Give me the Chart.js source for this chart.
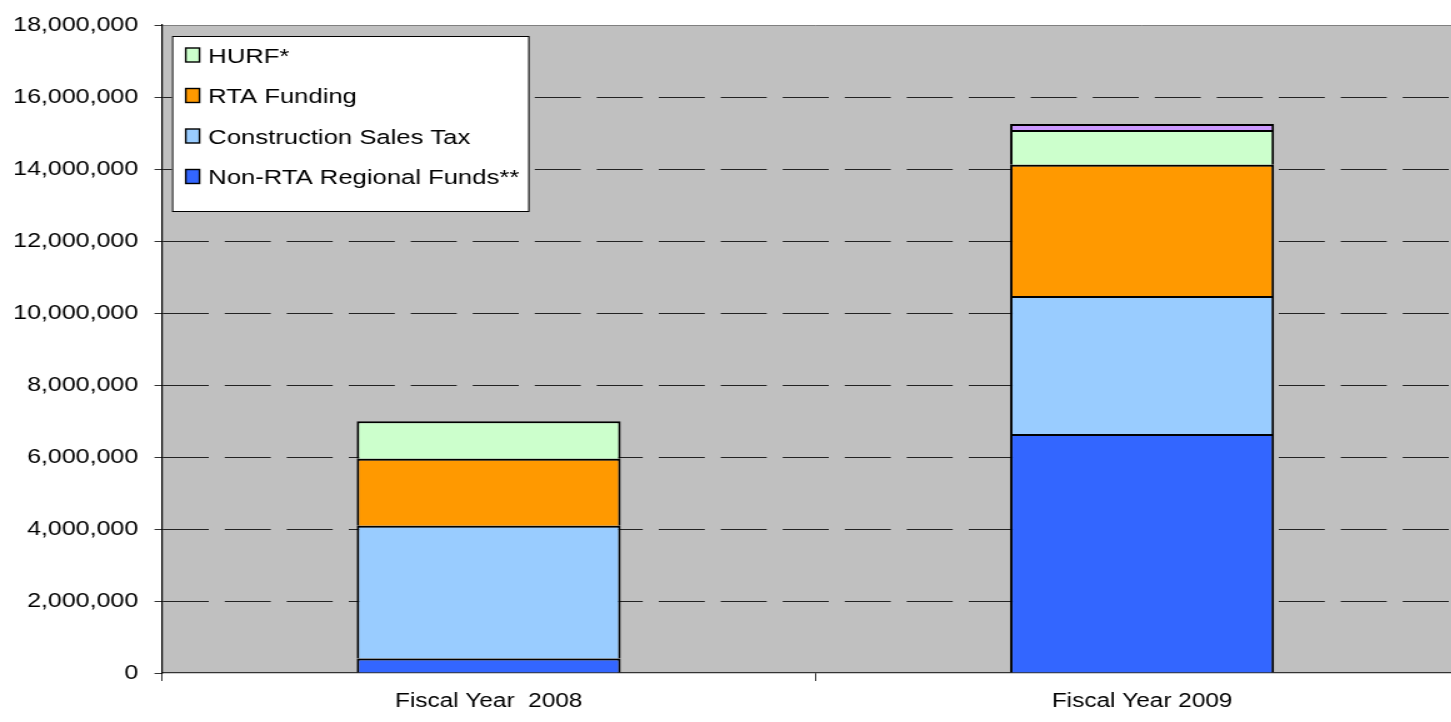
<!DOCTYPE html>
<html>
<head>
<meta charset="utf-8">
<script src="https://cdn.jsdelivr.net/npm/chart.js@4.4.1/dist/chart.umd.min.js"></script>
<style>
  html, body { margin: 0; padding: 0; background: #fff; overflow: hidden; }
  /* the original picture is stretched sideways, so draw narrow and widen */
  #wrap { width: 1175px; height: 722px; transform: scaleX(1.25); transform-origin: 0 0; }
</style>
</head>
<body>
<div id="wrap"><canvas id="fundingChart"></canvas></div>
<script>
const categories = ["Fiscal Year  2008", "Fiscal Year 2009"];

const nonRtaRegional = [400000, 6640000];
const constructionSalesTax = [3690000, 3830000];
const rtaFunding = [1860000, 3650000];
const hurf = [1040000, 960000];
const other = [0, 170000];

// legend shows top to bottom, the purple strip has no entry
const legendOrder = ["HURF*", "RTA Funding", "Construction Sales Tax", "Non-RTA Regional Funds**"];

const FONT = "'Liberation Sans', Arial, sans-serif";

// grey plot area with a grey frame on top
const plotBackground = {
  id: "plotBackground",
  beforeDraw(chart) {
    const { ctx, chartArea: a } = chart;
    ctx.save();
    ctx.fillStyle = "#c0c0c0";
    ctx.fillRect(a.left, a.top, a.right - a.left, a.bottom - a.top);
    ctx.strokeStyle = "#808080";
    ctx.lineWidth = 1;
    ctx.beginPath();
    ctx.moveTo(a.left, a.top + 0.5);
    ctx.lineTo(a.right, a.top + 0.5);
    ctx.stroke();
    ctx.restore();
  },
};

// boxed legend inside the plot, top left
const boxLegend = {
  id: "boxLegend",
  afterDraw(chart) {
    const { ctx, chartArea: a } = chart;
    const x = a.left + 8;
    const y = a.top + 11;
    const w = 285;
    const h = 175;
    ctx.save();
    ctx.fillStyle = "#ffffff";
    ctx.fillRect(x, y, w, h);
    ctx.strokeStyle = "#000000";
    ctx.lineWidth = 1;
    ctx.strokeRect(x + 0.5, y + 0.5, w, h);

    ctx.font = "20.5px " + FONT;
    ctx.textBaseline = "middle";
    legendOrder.forEach((label, i) => {
      const ds = chart.data.datasets.find((d) => d.label === label);
      const cy = y + 20 + i * 40.5;
      ctx.fillStyle = ds.backgroundColor;
      ctx.fillRect(x + 11, cy - 8, 11, 14);
      ctx.strokeStyle = "#000000";
      ctx.lineWidth = 1.4;
      ctx.strokeRect(x + 11, cy - 8, 11, 14);
      ctx.fillStyle = "#000000";
      ctx.fillText(label, x + 29, cy + 1);
    });
    ctx.restore();
  },
};

const datasets = [
  { label: "Non-RTA Regional Funds**", data: nonRtaRegional, backgroundColor: "#3366ff" },
  { label: "Construction Sales Tax", data: constructionSalesTax, backgroundColor: "#99ccff" },
  { label: "RTA Funding", data: rtaFunding, backgroundColor: "#ff9900" },
  { label: "HURF*", data: hurf, backgroundColor: "#ccffcc" },
  { label: "Other", data: other, backgroundColor: "#cc99ff" },
].map((d) => ({
  ...d,
  borderColor: "#000000",
  borderWidth: 2,
  categoryPercentage: 1,
  barPercentage: 0.404,
}));

new Chart(document.getElementById("fundingChart"), {
  type: "bar",
  data: { labels: categories, datasets: datasets },
  options: {
    responsive: true,
    maintainAspectRatio: false,
    animation: false,
    devicePixelRatio: 1,
    layout: { padding: { top: 7, right: 0, left: 0, bottom: 0 } },
    plugins: {
      legend: { display: false },
      tooltip: { enabled: false },
    },
    scales: {
      x: {
        stacked: true,
        offset: true,
        afterFit: (scale) => { scale.height = 49; },
        grid: {
          offset: true,
          drawOnChartArea: false,
          drawTicks: true,
          tickLength: 8,
          tickColor: "#333333",
        },
        border: { display: true, color: "#333333", width: 1.2 },
        ticks: {
          color: "#000000",
          padding: 9,
          font: { family: FONT, size: 19.5 },
        },
      },
      y: {
        stacked: true,
        min: 0,
        max: 18000000,
        afterFit: (scale) => { scale.width = 129.6; },
        grid: {
          color: (c) => (c.tick && (c.tick.value === 0 || c.tick.value === 18000000) ? "rgba(0,0,0,0)" : "#222222"),
          lineWidth: 1,
          drawTicks: true,
          tickLength: 6,
          tickColor: "#333333",
        },
        border: { display: true, color: "#000000", width: 1.2, dash: [36.8, 12.8] },
        ticks: {
          stepSize: 2000000,
          color: "#000000",
          padding: 13,
          font: { family: FONT, size: 20 },
          callback: (v) => v.toLocaleString("en-US"),
        },
      },
    },
  },
  plugins: [plotBackground, boxLegend],
});
</script>
</body>
</html>
